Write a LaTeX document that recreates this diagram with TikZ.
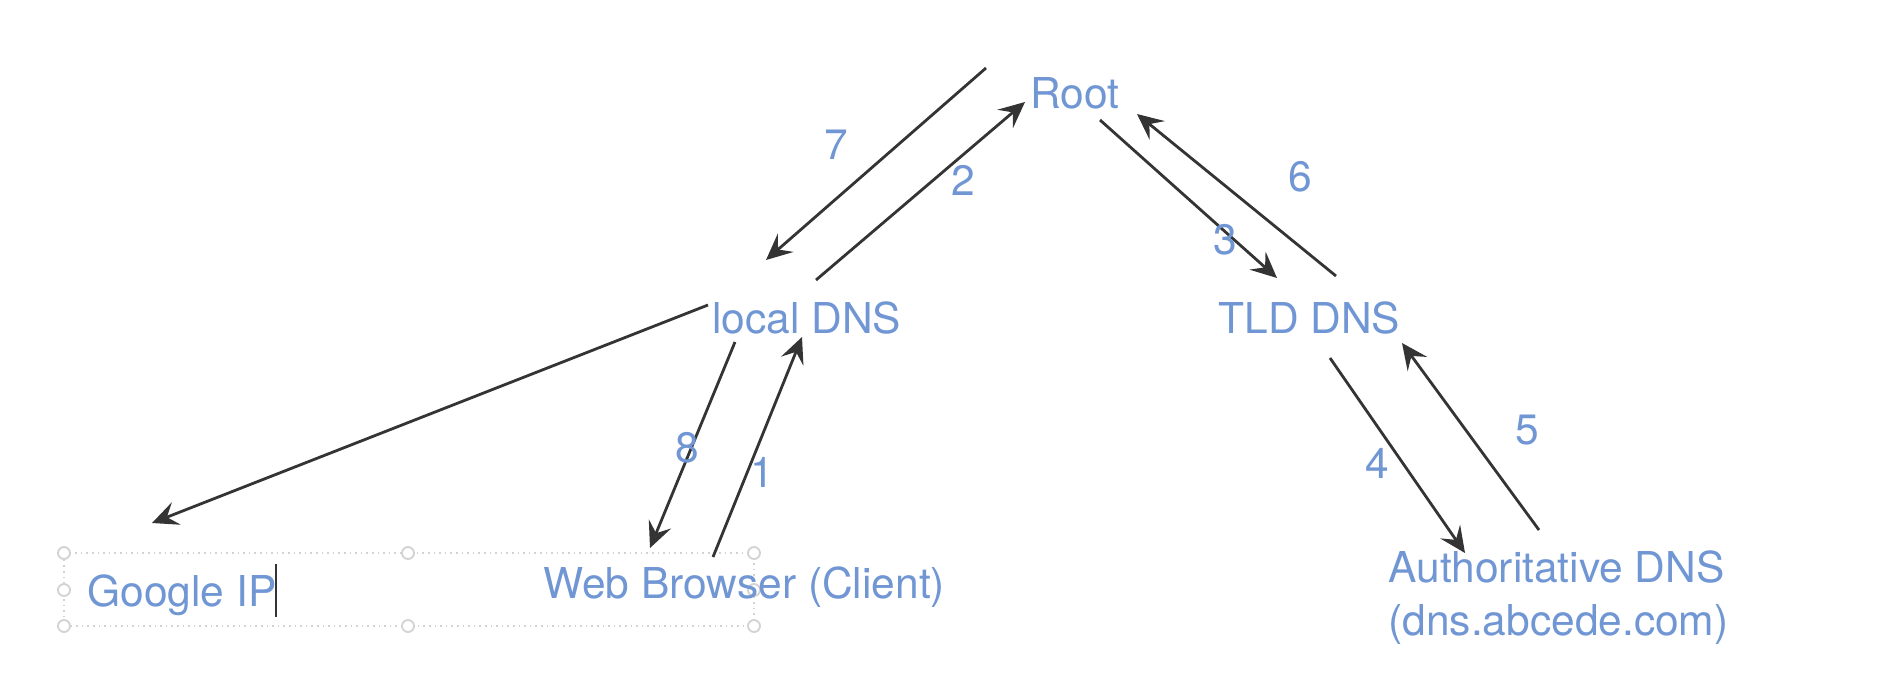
\documentclass[tikz,border=0pt]{standalone}
\usepackage{fontspec}
\setmainfont{TeX Gyre Heros}
\usetikzlibrary{arrows.meta}
\definecolor{txtblue}{RGB}{112,150,212}
\definecolor{arrgray}{RGB}{52,52,52}
\definecolor{handlegray}{RGB}{210,210,210}
\begin{document}
\begin{tikzpicture}[x=0.5pt,y=-0.5pt,
  lbl/.style={inner sep=0pt, text=txtblue, font=\fontsize{21.25}{26.5}\selectfont, anchor=base west},
  num/.style={inner sep=0pt, text=txtblue, font=\fontsize{21.25}{26.5}\selectfont},
  arr/.style={draw=arrgray, line width=1.4pt, -{Stealth[length=13pt,width=12pt,inset=5pt]}},
  seline/.style={draw=handlegray, dotted, line width=0.8pt},
  handle/.style={circle, draw=handlegray, line width=0.9pt, fill=white, inner sep=0pt, minimum size=6pt},
  cursor/.style={draw=arrgray, line width=0.9pt}]
\useasboundingbox[fill=white] (0,0) rectangle (1900,680);

% selection frame around Google IP
\coordinate (s1) at (64,553);
\coordinate (s2) at (408,553);
\coordinate (s3) at (754,553);
\coordinate (s4) at (754,590);
\coordinate (s5) at (754,626);
\coordinate (s6) at (408,626);
\coordinate (s7) at (64,626);
\coordinate (s8) at (64,590);
\draw[seline] (s1) -- (s3) -- (s5) -- (s7) -- cycle;
\foreach \h in {s1,s2,s3,s4,s5,s6,s7,s8} \node[handle] at (\h) {};

% main nodes
\node[lbl] (root)   at (1030,108) {Root};
\node[lbl] (local)  at (712,333)  {local DNS};
\node[lbl] (tld)    at (1218,333) {TLD DNS};
\node[lbl] (google) at (87,606)   {Google IP};
\node[lbl] (web)    at (543,598)  {Web Browser (Client)};
\node[lbl, align=left] (auth) at (1388,635) {Authoritative DNS\\(dns.abcede.com)};

% text cursor
\coordinate (c1) at (276,564);
\coordinate (c2) at (276,617);
\draw[cursor] (c1) -- (c2);

% free start of arrow 7
\coordinate (f7) at ([shift={(-44,-40)}]root.base west);

% connectors
\draw[arr] (f7) -- ([shift={(54,-73)}]local.base west);
\draw[arr] ([shift={(104,-53)}]local.base west) -- ([shift={(-5,-6)}]root.base west);
\draw[arr] ([shift={(70,12)}]root.base west) -- ([shift={(59,-55)}]tld.base west);
\draw[arr] ([shift={(118,-57)}]tld.base west) -- ([shift={(107,6)}]root.base west);
\draw[arr] ([shift={(-4,-28)}]local.base west) -- ([shift={(65,-83)}]google.base west);
\draw[arr] ([shift={(23,9)}]local.base west) -- ([shift={(107,-50)}]web.base west);
\draw[arr] ([shift={(170,-41)}]web.base west) -- ([shift={(90,4)}]local.base west);
\draw[arr] ([shift={(112,25)}]tld.base west) -- ([shift={(77,-82)}]auth.base west);
\draw[arr] ([shift={(151,-105)}]auth.base west) -- ([shift={(184,10)}]tld.base west);

% step numbers
\node[num] (n7) at (836,145) {7};
\node[num] (n2) at (963,180) {2};
\node[num] (n3) at (1225,240) {3};
\node[num] (n6) at (1300,177) {6};
\node[num] (n8) at (687,448) {8};
\node[num] (n1) at (762,472) {1};
\node[num] (n4) at (1377,463) {4};
\node[num] (n5) at (1527,430) {5};
\end{tikzpicture}
\end{document}
